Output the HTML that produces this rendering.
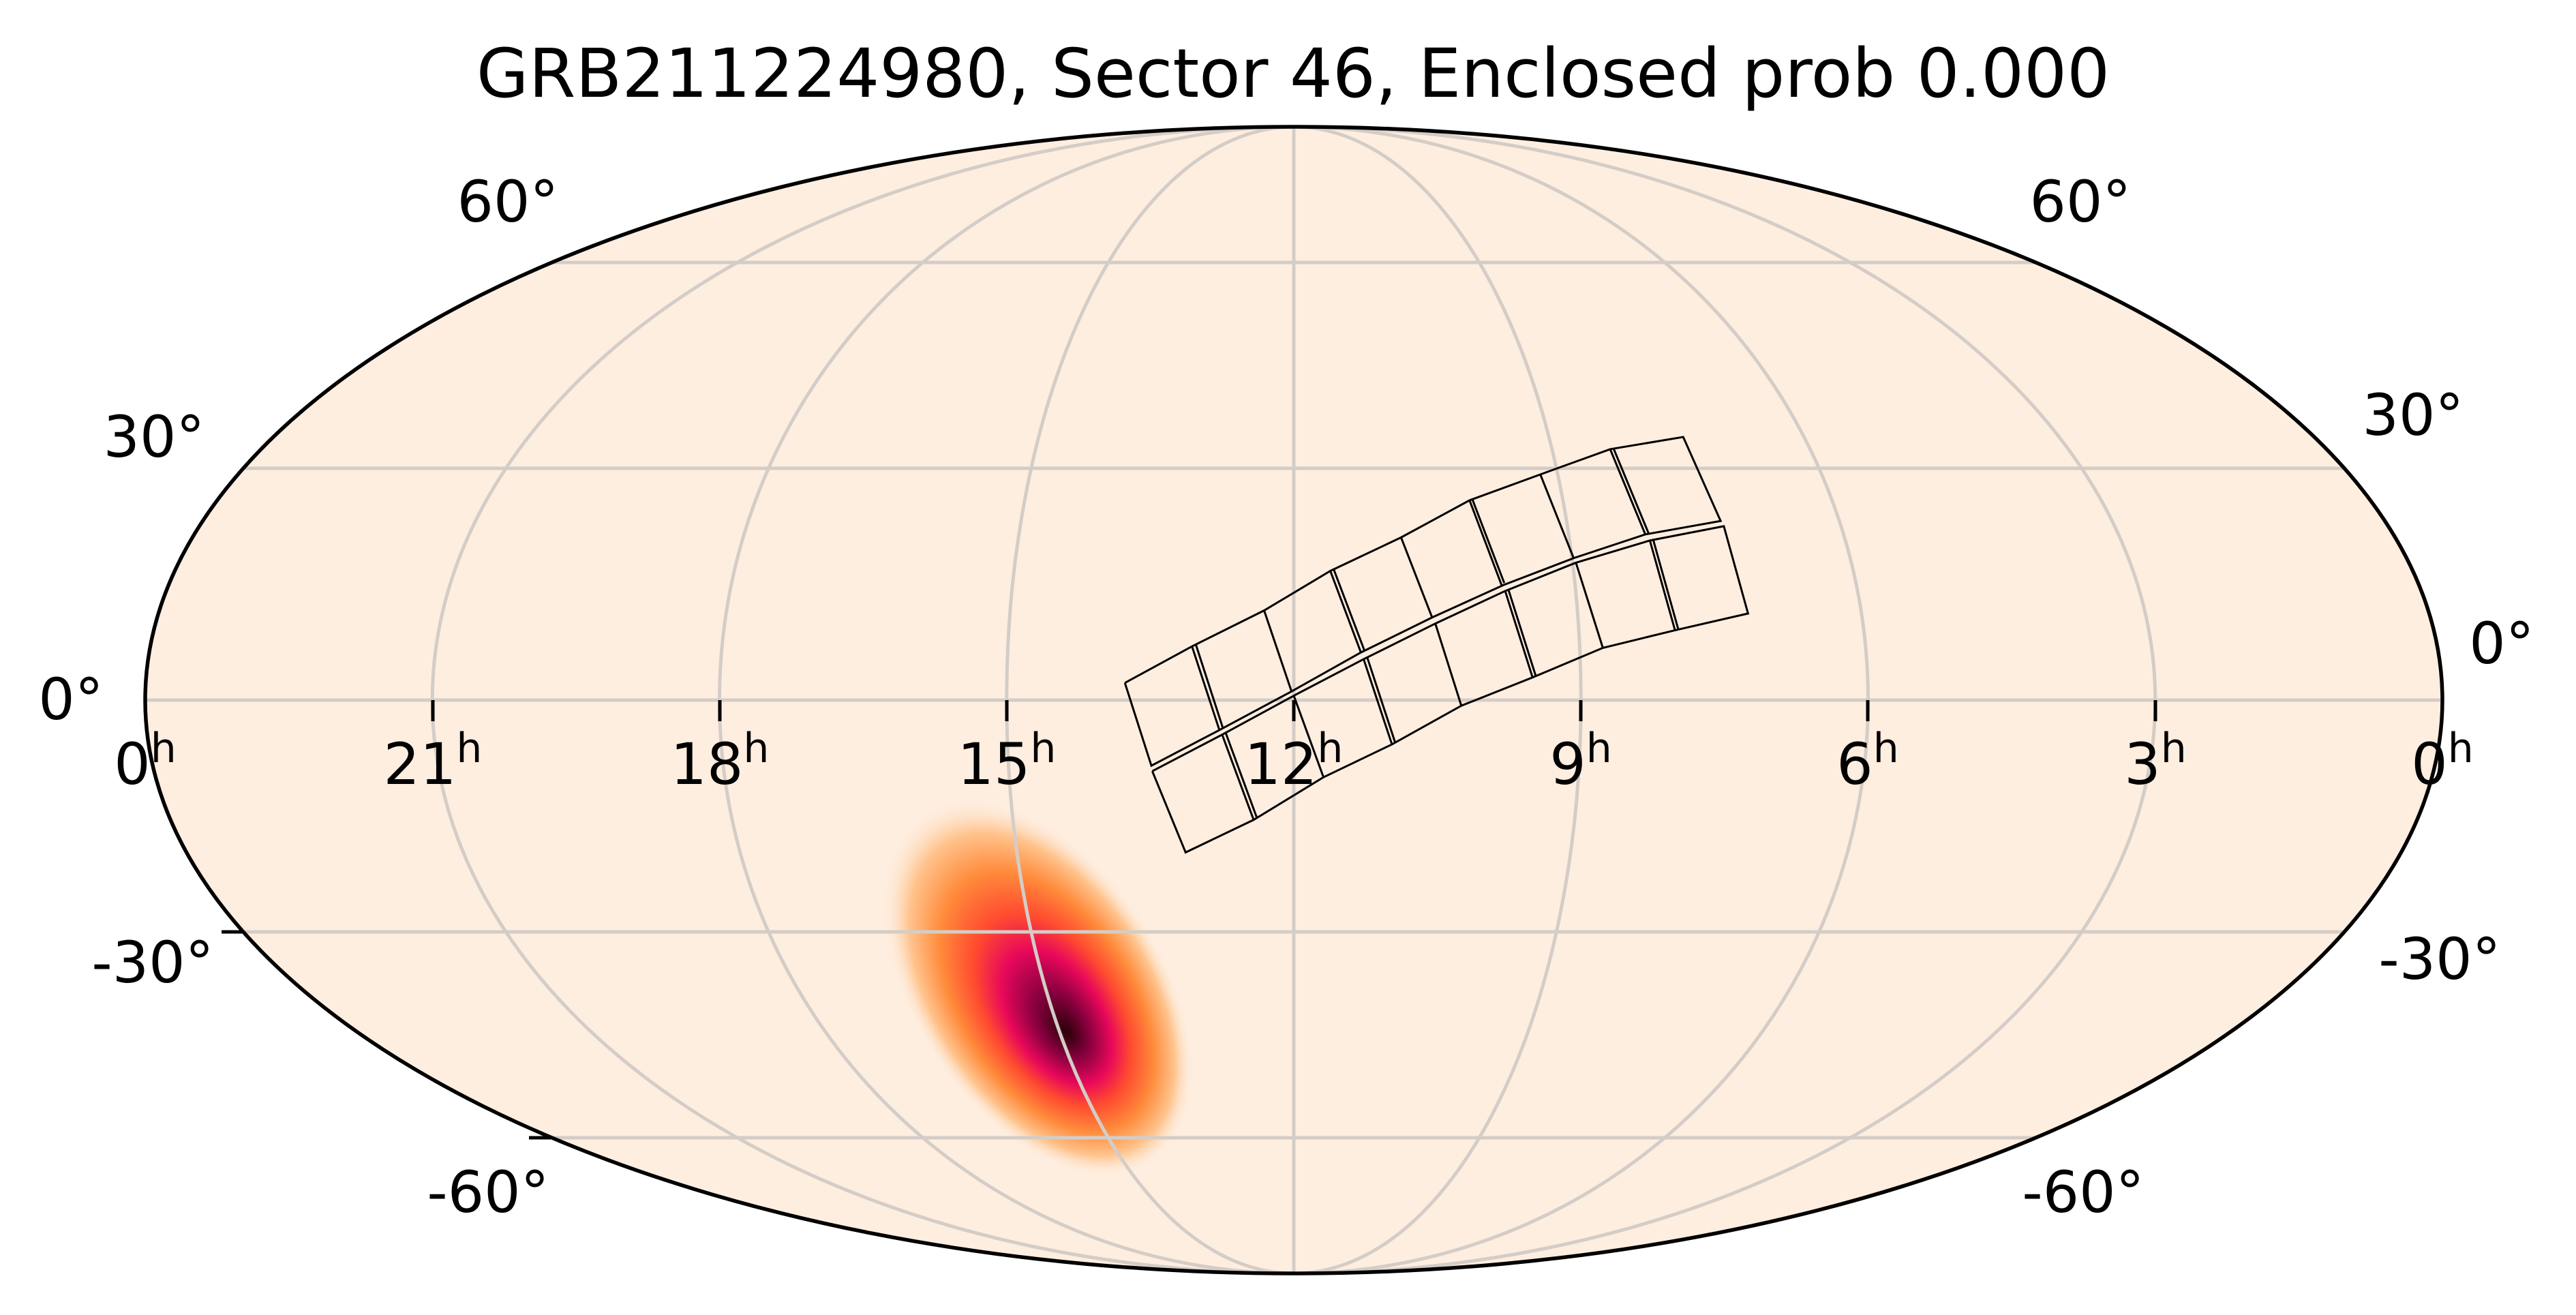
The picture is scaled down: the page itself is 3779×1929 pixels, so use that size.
<!DOCTYPE html>
<html><head><meta charset="utf-8"><style>
html,body{margin:0;padding:0;background:#fff;}
svg{display:block;}
text{font-family:"DejaVu Sans","Liberation Sans",sans-serif;fill:#000;}
</style></head><body>
<svg width="3779" height="1929" viewBox="0 0 3779 1929" xmlns="http://www.w3.org/2000/svg">
<defs>
<clipPath id="moll"><ellipse cx="1898" cy="1027" rx="1685" ry="841"/></clipPath>
<radialGradient id="blob" cx="0.5" cy="0.5" r="0.5" fx="0.63" fy="0.5">
<stop offset="0" stop-color="#2a0008"/>
<stop offset="0.18" stop-color="#8a0040"/>
<stop offset="0.35" stop-color="#e8085a"/>
<stop offset="0.5" stop-color="#ff4a30"/>
<stop offset="0.68" stop-color="#ff8a3a"/>
<stop offset="0.85" stop-color="#ffc48e"/>
<stop offset="1" stop-color="#feeee0" stop-opacity="0"/>
</radialGradient>
</defs>
<text x="1897" y="142" font-size="99" text-anchor="middle">GRB211224980, Sector 46, Enclosed prob 0.000</text>
<ellipse cx="1898" cy="1027" rx="1685" ry="841" fill="#feeee0"/>
<g clip-path="url(#moll)">
<g transform="translate(1522,1448) rotate(57)">
<ellipse cx="0" cy="0" rx="310" ry="185" fill="url(#blob)"/>
</g>
<g stroke="#d4cdc7" stroke-width="5" fill="none">
<line x1="0" y1="385" x2="3779" y2="385"/>
<line x1="0" y1="687" x2="3779" y2="687"/>
<line x1="0" y1="1027" x2="3779" y2="1027"/>
<line x1="0" y1="1367" x2="3779" y2="1367"/>
<line x1="0" y1="1669" x2="3779" y2="1669"/>
<line x1="1898" y1="150" x2="1898" y2="1900"/>
<ellipse cx="1898" cy="1027" rx="421.25" ry="841"/>
<ellipse cx="1898" cy="1027" rx="842.5" ry="841"/>
<ellipse cx="1898" cy="1027" rx="1263.75" ry="841"/>
</g>
</g>
<ellipse cx="1898" cy="1027" rx="1685" ry="841" fill="none" stroke="#000" stroke-width="5.5"/>
<g stroke="#000" stroke-width="5">
<line x1="635" y1="1027" x2="635" y2="1058"/>
<line x1="1056" y1="1027" x2="1056" y2="1058"/>
<line x1="1477" y1="1027" x2="1477" y2="1058"/>
<line x1="1898" y1="1027" x2="1898" y2="1058"/>
<line x1="2319" y1="1027" x2="2319" y2="1058"/>
<line x1="2740" y1="1027" x2="2740" y2="1058"/>
<line x1="3162" y1="1027" x2="3162" y2="1058"/>
<line x1="325" y1="1367" x2="357" y2="1367"/>
<line x1="776" y1="1669" x2="808" y2="1669"/>
</g>
<g transform="translate(1600,600) scale(0.6697,0.4464)" fill="none" stroke="#000" stroke-width="3">
<polyline vector-effect="non-scaling-stroke" points="75,900 222,780 380,662 525,532 680,422 830,300 985,215 1138,132 1298,92 1380,368 1215,412 1058,490 905,578 748,685 592,800 440,928 282,1055 133,1172 75,900"/>
<polyline vector-effect="non-scaling-stroke" points="135,1190 288,1070 445,942 598,822 755,705 908,598 1063,505 1225,432 1387,385 1440,672 1280,727 1122,785 968,882 812,975 660,1102 510,1210 357,1350 208,1457 135,1190"/>
<g vector-effect="non-scaling-stroke">
<line vector-effect="non-scaling-stroke" x1="222" y1="780" x2="282" y2="1055"/><line vector-effect="non-scaling-stroke" x1="230" y1="772" x2="290" y2="1050"/>
<line vector-effect="non-scaling-stroke" x1="380" y1="662" x2="440" y2="928"/>
<line vector-effect="non-scaling-stroke" x1="525" y1="532" x2="592" y2="800"/><line vector-effect="non-scaling-stroke" x1="532" y1="525" x2="600" y2="795"/>
<line vector-effect="non-scaling-stroke" x1="680" y1="422" x2="748" y2="685"/>
<line vector-effect="non-scaling-stroke" x1="830" y1="300" x2="900" y2="578"/><line vector-effect="non-scaling-stroke" x1="836" y1="296" x2="906" y2="572"/>
<line vector-effect="non-scaling-stroke" x1="985" y1="215" x2="1058" y2="490"/>
<line vector-effect="non-scaling-stroke" x1="1138" y1="132" x2="1215" y2="412"/><line vector-effect="non-scaling-stroke" x1="1145" y1="128" x2="1222" y2="408"/>
<line vector-effect="non-scaling-stroke" x1="288" y1="1070" x2="357" y2="1350"/><line vector-effect="non-scaling-stroke" x1="296" y1="1065" x2="364" y2="1343"/>
<line vector-effect="non-scaling-stroke" x1="445" y1="942" x2="510" y2="1210"/>
<line vector-effect="non-scaling-stroke" x1="598" y1="822" x2="660" y2="1102"/><line vector-effect="non-scaling-stroke" x1="606" y1="817" x2="667" y2="1096"/>
<line vector-effect="non-scaling-stroke" x1="755" y1="705" x2="812" y2="975"/>
<line vector-effect="non-scaling-stroke" x1="908" y1="598" x2="968" y2="882"/><line vector-effect="non-scaling-stroke" x1="915" y1="593" x2="975" y2="877"/>
<line vector-effect="non-scaling-stroke" x1="1063" y1="505" x2="1122" y2="785"/>
<line vector-effect="non-scaling-stroke" x1="1225" y1="432" x2="1280" y2="727"/><line vector-effect="non-scaling-stroke" x1="1232" y1="428" x2="1287" y2="723"/>
</g>
</g>
<g font-size="84" text-anchor="middle">
<text x="745" y="325">60°</text>
<text x="3052" y="325">60°</text>
<text x="226" y="670">30°</text>
<text x="3540" y="638">30°</text>
<text x="104" y="1055">0°</text>
<text x="3670" y="973">0°</text>
<text x="224" y="1441">-30°</text>
<text x="3579" y="1436">-30°</text>
<text x="716" y="1778">-60°</text>
<text x="3056" y="1778">-60°</text>
</g>
<g font-size="84" text-anchor="middle">
<text x="213" y="1150">0<tspan font-size="60" dy="-32">h</tspan></text>
<text x="635" y="1150">21<tspan font-size="60" dy="-32">h</tspan></text>
<text x="1056" y="1150">18<tspan font-size="60" dy="-32">h</tspan></text>
<text x="1477" y="1150">15<tspan font-size="60" dy="-32">h</tspan></text>
<text x="1898" y="1150">12<tspan font-size="60" dy="-32">h</tspan></text>
<text x="2319" y="1150">9<tspan font-size="60" dy="-32">h</tspan></text>
<text x="2740" y="1150">6<tspan font-size="60" dy="-32">h</tspan></text>
<text x="3162" y="1150">3<tspan font-size="60" dy="-32">h</tspan></text>
<text x="3583" y="1150">0<tspan font-size="60" dy="-32">h</tspan></text>
</g>
</svg>
</body></html>
